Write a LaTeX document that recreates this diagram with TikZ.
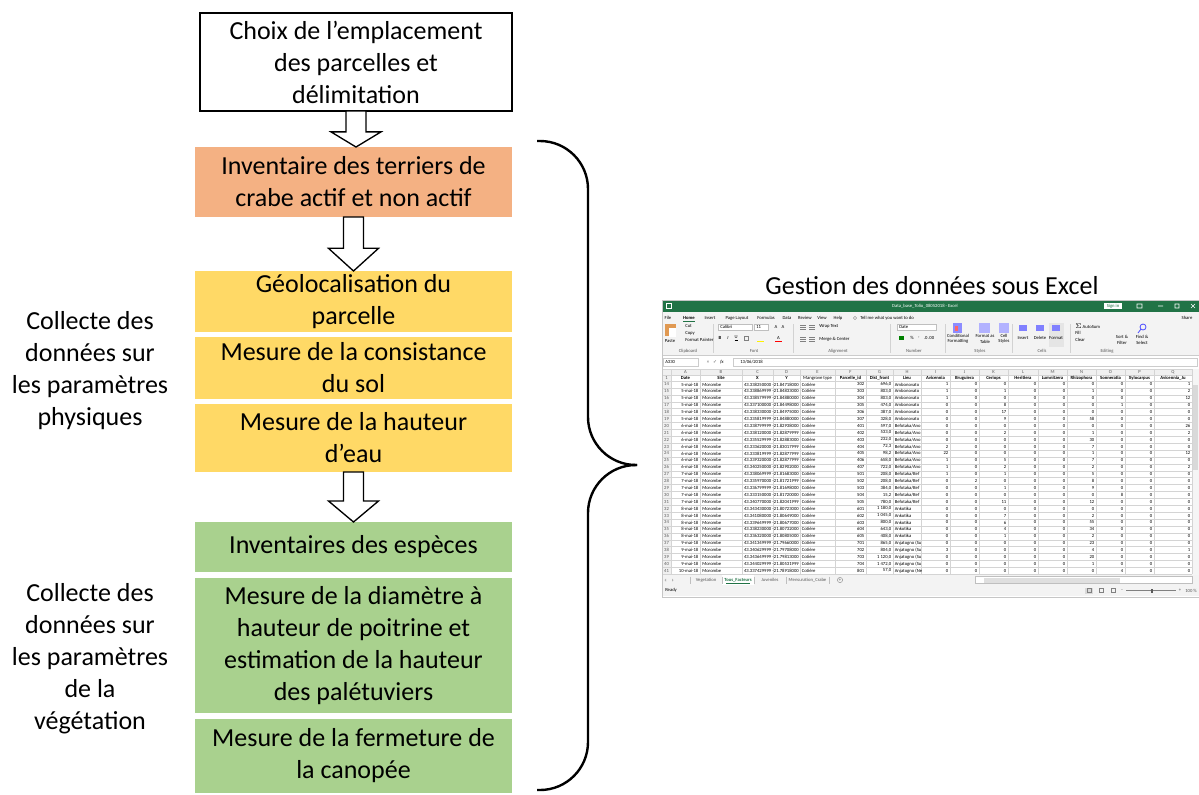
\documentclass[tikz,border=0pt]{standalone}
\usepackage{fontspec}
\setmainfont{Carlito}
\newfontfamily\symbolfont{DejaVu Sans}
\usetikzlibrary{positioning,calc}

\definecolor{boxorange}{HTML}{F4B183}
\definecolor{boxyellow}{HTML}{FFD966}
\definecolor{boxgreen}{HTML}{A9D18E}
\definecolor{xlgreen}{HTML}{217346}
\definecolor{xlribbon}{HTML}{F3F3F3}
\definecolor{xlgrid}{HTML}{D4D4D4}

\newcommand{\hollowarrow}[2]{%
  \coordinate (#1-head) at ($(#1.south)!0.58!(#1.south|-#2.north)$);
  \draw[hollow] ([xshift=-7.5pt]#1.south) -- ([xshift=-7.5pt]#1-head) -- ([xshift=-18.75pt]#1-head)
    -- (#1.south|-#2.north) -- ([xshift=18.75pt]#1-head) -- ([xshift=7.5pt]#1-head)
    -- ([xshift=7.5pt]#1.south) -- cycle;}

\begin{document}
\begin{tikzpicture}[
    x=0.75pt,y=-0.75pt,
    font=\fontsize{19.5}{24}\selectfont,
    topstage/.style={draw=black,line width=1.2pt,fill=white,minimum width=234pt,minimum height=73.5pt,align=center,outer sep=0pt},
    stage/.style={fill=#1,minimum width=237.75pt,inner sep=2pt,outer sep=0pt,align=center},
    group/.style={align=center},
    hollow/.style={draw=black,fill=white,line width=1pt},
    brace/.style={line width=1.8pt,rounded corners=36pt},
    cell/.style={inner sep=0pt,font=\fontsize{3.5}{4}\selectfont},
    boldcell/.style={cell,font=\fontsize{3.5}{4}\selectfont\bfseries},
    greycell/.style={cell,text=gray!70!black},
    cellline/.style={draw=xlgrid,line width=0.2pt}
  ]
    \useasboundingbox (0,0) rectangle (1199,794);

    \node[topstage] (choix) at (356,62) {Choix de l’emplacement\\des parcelles et\\délimitation};
    \node[stage=boxorange,minimum height=52.5pt] (terriers) at (353.5,182) {Inventaire des terriers de\\crabe actif et non actif};

    \node[stage=boxyellow,minimum height=45.75pt] (geoloc) at (353.5,301.5) {Géolocalisation du\\parcelle};
    \node[stage=boxyellow,minimum height=46.5pt,below=3.75pt of geoloc] (sol) {Mesure de la consistance\\du sol};
    \node[stage=boxyellow,minimum height=51pt,below=3.75pt of sol] (eau) {Mesure de la hauteur\\d’eau};

    \node[stage=boxgreen,minimum height=37.5pt] (especes) at (353.5,547) {Inventaires des espèces};
    \node[stage=boxgreen,minimum height=101.25pt,below=4.5pt of especes] (diametre) {Mesure de la diamètre à\\hauteur de poitrine et\\estimation de la hauteur\\des palétuviers};
    \node[stage=boxgreen,minimum height=55.5pt,below=4.5pt of diametre] (canopee) {Mesure de la fermeture de\\la canopée};

    \hollowarrow{choix}{terriers}
    \hollowarrow{terriers}{geoloc}
    \hollowarrow{eau}{especes}

    \node[group] (physique) at (90,370.5) {Collecte des\\données sur\\les paramètres\\physiques};
    \node[group] (vegetation) at (90,658.5) {Collecte des\\données sur\\les paramètres\\de la\\végétation};

    \draw[brace] (537,141) -| (588,465) -- (637,465);
    \draw[brace] (637,465) -- (588,465) |- (537,790);

    \node (xltitle) at (932,286) {Gestion des données sous Excel};

    % Excel window
    \draw[gray!45,fill=white] (662,300) rectangle (1199,597);
    \fill[xlgreen] (662,300) rectangle (1199,312);
    \fill[xlribbon] (662,312) rectangle (1199,355);
    \draw[gray!40,line width=0.3pt] (662,355) -- (1199,355);
    \draw[white,line width=0.4pt] (666,303.5) rectangle (671,308.5);
    \node[cell,text=white] (wbname) at (925,306) {Data\_base\_Tolio\_08052018 - Excel};
    \node[cell,fill=white,text=xlgreen,minimum width=14pt,minimum height=5pt] (signin) at (1113,306) {Sign in};
    \draw[white,line width=0.4pt] (1137,304) rectangle (1142,308) (1158,306) -- (1163,306)
      (1175,304) rectangle (1179,308) (1191,304) -- (1195,308) (1191,308) -- (1195,304);

    \foreach \menu/\xx in {File/668,\bfseries Home/689,Insert/710,Page Layout/737,Formulas/766,Data/787,Review/805,View/822,Help/838}
      \node[cell] (menu-\xx) at (\xx,318) {\menu};
    \draw[xlgreen,line width=0.6pt] (683,321.5) -- (695,321.5);
    \draw[gray,line width=0.3pt] (855,318) circle (1.6);
    \node[cell,anchor=west] (tellme) at (860,318) {Tell me what you want to do};
    \node[cell] (share) at (1187,318) {Share};

    \foreach \xx in {713,793,890,945,1012,1070}
      \draw[gray!35,line width=0.3pt] (\xx,324) -- (\xx,353);
    \foreach \grp/\xx in {Clipboard/688,Font/754,Alignment/838,Number/914,Styles/980,Cells/1042,Editing/1107}
      \node[greycell] (grp-\xx) at (\xx,351) {\grp};

    \fill[brown!60!orange!80] (665,324) rectangle (676,336);
    \fill[white] (669,328) rectangle (676,337);
    \node[cell] (paste) at (670,341) {Paste};
    \node[cell,anchor=west] (cut) at (685,326) {Cut};
    \node[cell,anchor=west] (copy) at (685,333) {Copy};
    \node[cell,anchor=west] (painter) at (685,340) {Format Painter};

    \draw[gray!50,fill=white,line width=0.3pt] (718,324) rectangle (752,330) (754,324) rectangle (768,330);
    \node[cell,anchor=west] (fontname) at (720,327) {Calibri};
    \node[cell,anchor=west] (fontsize) at (756,327) {11};
    \node[cell] (grow) at (776,327) {A};
    \node[cell] (shrink) at (783,327) {A};
    \node[boldcell] (bold) at (720,338) {B};
    \node[cell,font=\fontsize{3.5}{4}\selectfont\itshape] (italic) at (728,338) {I};
    \node[cell] (underline) at (736,338) {\underline{U}};
    \draw[gray,line width=0.3pt] (744,336) rectangle (748,340);
    \fill[yellow] (757,340.5) rectangle (764,341.5);
    \node[cell] (fontcolor) at (778.5,337.5) {A};
    \fill[red] (775,340.5) rectangle (782,341.5);

    \foreach \yy in {325,327,329,337,339,341}
      \draw[gray,line width=0.3pt] (800,\yy) -- (806,\yy) (809,\yy) -- (815,\yy);
    \node[cell,anchor=west] (wrap) at (819,326) {Wrap Text};
    \node[cell,anchor=west] (merge) at (819,339) {Merge \& Center};

    \draw[gray!50,fill=white,line width=0.3pt] (897,324) rectangle (936,330);
    \node[cell,anchor=west] (numfmt) at (899,327) {Date};
    \fill[green!50!black] (899,336) rectangle (904,340);
    \node[cell] (percent) at (912,338) {\%};
    \node[cell] (comma) at (919,338) {,};
    \node[cell] (decimals) at (929,338) {.0\,.00};

    \fill[blue!45] (953,323) rectangle (962,333);
    \fill[red!60] (955,326) rectangle (958,331);
    \fill[blue!30] (979,323) rectangle (990,333);
    \fill[blue!30] (999,323) rectangle (1009,333);
    \node[cell,align=center] (condfmt) at (958,339) {Conditional\\Formatting};
    \node[cell,align=center] (fmttable) at (985,339) {Format as\\Table};
    \node[cell,align=center] (cellstyles) at (1004,339) {Cell\\Styles};

    \fill[gray!20] (1049,323) rectangle (1064,347);
    \fill[blue!50] (1019,325) rectangle (1027,331);
    \fill[blue!50] (1036,325) rectangle (1044,331);
    \fill[blue!50] (1052,325) rectangle (1060,331);
    \node[cell] (insert) at (1023,338) {Insert};
    \node[cell] (delete) at (1040,338) {Delete};
    \node[cell] (format) at (1056,338) {Format};

    \node[cell,anchor=west] (autosum) at (1075,326) {$\Sigma$ AutoSum};
    \node[cell,anchor=west] (fill) at (1075,333) {Fill};
    \node[cell,anchor=west] (clear) at (1075,340) {Clear};
    \node[cell,align=center] (sortfilter) at (1122,340) {Sort \&\\Filter};
    \node[cell,align=center] (findselect) at (1142,340) {Find \&\\Select};
    \draw[blue!70,line width=0.6pt] (1143,327) circle (3) (1141,329) -- (1138,333);

    \draw[gray!40,line width=0.3pt] (663,358) rectangle (698,366) (733,358) rectangle (1197,366);
    \node[cell,anchor=west] (namebox) at (665,362) {A330};
    \node[greycell] (cancel) at (708,362) {×};
    \node[greycell] (enter) at (715,362) {\symbolfont ✓};
    \node[cell] (fx) at (722,362) {\itshape fx};
    \node[cell,anchor=west] (formula) at (740,362) {13/06/2018};

    % grid
    \fill[gray!12] (662,369) rectangle (1192,375) (662,375) rectangle (671,574.2);
    \fill[gray!8] (1192,369) rectangle (1199,575);
    \fill[gray!30] (1193,385) rectangle (1198,470);
    \foreach \k in {0,...,28}
      \draw[cellline] (662,{381+6.9*\k}) -- (1192,{381+6.9*\k});
    \draw[cellline] (662,369) -- (1192,369) (662,375) -- (1192,375);
    \foreach \xx in {662,671,700,742,773,800,835,866,893,921,950,979,1008,1038,1067,1096,1125,1154,1192}
      \draw[cellline] (\xx,369) -- (\xx,574.2);
    \node[greycell] (rn-1) at (666.5,378) {1};
    \foreach \l/\r/\c/\h in {671/700/A/Date,700/742/B/Site,742/773/C/X,773/800/D/Y,800/835/E/\mdseries Mangrove type,
        835/866/F/Parcelle\_id,866/893/G/Dist\_front,893/921/H/Lieu,921/950/I/Avicennia,950/979/J/Bruguiera,
        979/1008/K/Ceriops,1008/1038/L/Heritiera,1038/1067/M/Lumnitzera,1067/1096/N/Rhizophora,
        1096/1125/O/Sonneratia,1125/1154/P/Xylocarpus,1154/1192/Q/Avicennia\_Ju}
    {
      \node[greycell] (col-\c) at ({(\l+\r)/2},372) {\c};
      \node[boldcell] (head-\c) at ({(\l+\r)/2},378) {\h};
    }

    \foreach \rn/\dt/\cx/\cy/\id/\dist/\lieu/\vals [count=\k from 0] in {
        14/5-mai-18/43.338250000/-21.84718000/302/{696,0}/Ambonovato/{1,0,0,0,0,0,0,0,1},
        15/5-mai-18/43.338869999/-21.84833000/303/{803,0}/Ambonovato/{1,0,1,0,0,1,0,0,2},
        16/5-mai-18/43.338579999/-21.84880000/304/{803,0}/Ambonovato/{1,0,0,0,0,0,0,0,12},
        17/5-mai-18/43.337100000/-21.84498000/305/{474,0}/Ambonovato/{0,0,8,0,0,0,1,0,0},
        18/5-mai-18/43.338330000/-21.84975000/306/{387,0}/Ambonovato/{0,0,17,0,0,0,0,0,0},
        19/5-mai-18/43.335819999/-21.84880000/307/{328,0}/Ambonovato/{0,0,9,0,0,58,0,0,0},
        20/6-mai-18/43.338799999/-21.82938000/401/{597,0}/{Befotaka/Ano}/{0,0,0,0,0,0,0,0,26},
        21/6-mai-18/43.338120000/-21.82879999/402/{533,0}/{Befotaka/Ano}/{0,0,2,0,0,1,0,0,2},
        22/6-mai-18/43.335529999/-21.82883000/403/{232,0}/{Befotaka/Ano}/{0,0,0,0,0,30,0,0,0},
        23/6-mai-18/43.333620000/-21.83017999/404/{72,3}/{Befotaka/Ano}/{2,0,0,0,0,7,0,0,0},
        24/6-mai-18/43.333819999/-21.82877999/405/{98,2}/{Befotaka/Ano}/{22,0,0,0,0,1,0,0,12},
        25/6-mai-18/43.339320000/-21.82877999/406/{658,0}/{Befotaka/Ano}/{1,0,5,0,0,7,0,0,0},
        26/6-mai-18/43.340250000/-21.82902000/407/{722,0}/{Befotaka/Ano}/{1,0,2,0,0,2,0,0,2},
        27/7-mai-18/43.338069999/-21.81683000/501/{208,0}/{Befotaka/Bef}/{1,0,1,0,0,5,0,0,0},
        28/7-mai-18/43.335970000/-21.81721999/502/{208,0}/{Befotaka/Bef}/{0,2,0,0,0,8,0,0,0},
        29/7-mai-18/43.336799999/-21.81698000/503/{384,0}/{Befotaka/Bef}/{0,0,1,0,0,9,0,0,0},
        30/7-mai-18/43.333150000/-21.81720000/504/{15,2}/{Befotaka/Bef}/{0,0,0,0,0,0,8,0,0},
        31/7-mai-18/43.340770000/-21.82041999/505/{780,0}/{Befotaka/Bef}/{0,0,11,0,0,12,0,0,0},
        32/8-mai-18/43.343430000/-21.80723000/601/{1 180,0}/Ankotika/{0,0,0,0,0,0,0,0,0},
        33/8-mai-18/43.341080000/-21.80649000/602/{1 045,0}/Ankotika/{0,0,7,0,0,2,0,0,0},
        34/8-mai-18/43.339649999/-21.80677000/603/{800,0}/Ankotika/{0,0,6,0,0,55,0,0,0},
        35/8-mai-18/43.338230000/-21.80732000/604/{643,0}/Ankotika/{0,0,4,0,0,34,0,0,0},
        36/8-mai-18/43.336320000/-21.80805000/605/{408,0}/Ankotika/{0,0,1,0,0,2,0,0,0},
        37/9-mai-18/43.341349999/-21.79660000/701/{865,0}/Anjatogno (Su/{0,0,0,0,0,23,0,0,0},
        38/9-mai-18/43.340629999/-21.79708000/702/{804,0}/Anjatogno (Su/{3,0,0,0,0,4,0,0,1},
        39/9-mai-18/43.343649999/-21.79813000/703/{1 120,0}/Anjatogno (Su/{0,0,0,0,0,20,0,0,0},
        40/9-mai-18/43.344029999/-21.80531999/704/{1 472,0}/Anjatogno (Su/{0,0,0,0,0,1,0,0,0},
        41/10-mai-18/43.337429999/-21.78918000/801/{57,0}/Anjatogno (Ne/{0,0,0,0,0,0,4,0,0}}
    {
      \pgfmathsetmacro\yc{384.45+6.9*\k}
      \node[greycell] (rn-\rn) at (666.5,\yc) {\rn};
      \node[cell,anchor=east] (dt-\rn) at (698.5,\yc) {\dt};
      \node[cell,anchor=west] (site-\rn) at (702,\yc) {Morombe};
      \node[cell,anchor=east] (x-\rn) at (771.5,\yc) {\cx};
      \node[cell,anchor=east] (y-\rn) at (799,\yc) {\cy};
      \node[cell,anchor=west] (type-\rn) at (801.5,\yc) {Cotière};
      \node[cell,anchor=east] (id-\rn) at (864.5,\yc) {\id};
      \node[cell,anchor=east] (dist-\rn) at (891.5,\yc) {\dist};
      \node[cell,anchor=west] (lieu-\rn) at (894.5,\yc) {\lieu};
      \foreach \val [count=\col from 0] in \vals {
        \pgfmathsetmacro\xr{{948.5,977.5,1006.5,1036.5,1065.5,1094.5,1123.5,1152.5,1190.5}[\col]}
        \node[cell,anchor=east] (v-\rn-\col) at (\xr,\yc) {\val};
      }
    }

    % sheet tabs and status bar
    \fill[xlribbon] (662,575) rectangle (1199,585);
    \fill[white] (722,575) rectangle (754,584.5);
    \fill[gray!60] (666,578.5) -- (666,581.5) -- (664.5,580) -- cycle (672,578.5) -- (672,581.5) -- (673.5,580) -- cycle;
    \foreach \xx in {690,722,754,786,829}
      \draw[gray!50,line width=0.3pt] (\xx,576.5) -- (\xx,583.5);
    \node[greycell] (sheet-veg) at (706,580) {Vegetation};
    \node[boldcell,text=xlgreen] (sheet-tous) at (738,580) {Tous\_Facteurs};
    \draw[xlgreen,line width=0.5pt] (726,583) -- (750,583);
    \node[greycell] (sheet-juv) at (770,580) {Juveniles};
    \node[greycell] (sheet-mens) at (807.5,580) {Mensuration\_Crabe};
    \draw[gray,line width=0.3pt] (840,580) circle (2.6);
    \node[greycell] (sheet-new) at (840,580) {+};
    \draw[gray!50,fill=white,line width=0.3pt] (975,576.5) rectangle (1192,583.5);
    \fill[gray!25] (984,577.5) rectangle (1120,582.5);

    \fill[xlribbon] (662,585) rectangle (1199,596);
    \node[cell,anchor=west] (ready) at (665,590.5) {Ready};
    \fill[gray!30] (1085,587.5) rectangle (1093,593.5);
    \draw[gray,line width=0.3pt] (1087,588.5) rectangle (1091,592.5) (1099,588.5) rectangle (1103,592.5)
      (1111,588.5) rectangle (1115,592.5);
    \draw[gray,line width=0.3pt] (1126,590.5) -- (1176,590.5);
    \fill[gray!70!black] (1151,588.5) rectangle (1152.5,592.5);
    \node[greycell] (zoomout) at (1122,590.5) {–};
    \node[greycell] (zoomin) at (1180,590.5) {+};
    \node[greycell,anchor=west] (zoomlevel) at (1185,590.5) {100 \%};
    \draw[gray!45,line width=0.4pt] (662,300) rectangle (1199,597);
  \end{tikzpicture}
\end{document}
